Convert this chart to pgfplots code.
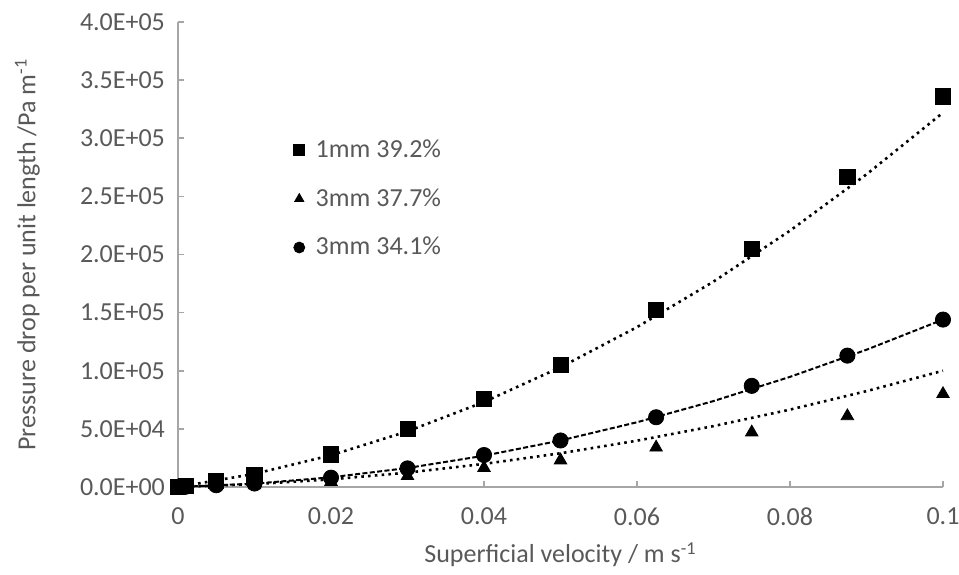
\documentclass[border=0pt]{standalone}
\usepackage{fontspec}
\setmainfont{Carlito}
\usepackage{pgfplots}
\pgfplotsset{compat=1.18}
\definecolor{txt}{HTML}{595959}
\definecolor{axl}{HTML}{A6A6A6}
\begin{document}
\begin{tikzpicture}
\begin{axis}[
  name=ax,
  scale only axis,
  width=382.5pt, height=232.5pt,
  xmin=0, xmax=0.1, ymin=0, ymax=400000,
  axis x line*=bottom, axis y line*=left,
  axis line style={axl, line width=0.8pt, -},
  tick align=inside, major tick length=3pt,
  tick style={axl, line width=0.8pt},
  xtick={0,0.02,0.04,0.06,0.08,0.1},
  xticklabels={0,0.02,0.04,0.06,0.08,0.1},
  ytick={0,50000,100000,150000,200000,250000,300000,350000,400000},
  yticklabels={0.0E+00,5.0E+04,1.0E+05,1.5E+05,2.0E+05,2.5E+05,3.0E+05,3.5E+05,4.0E+05},
  scaled ticks=false,
  every tick label/.append style={font=\fontsize{13}{15}\selectfont, text=txt},
  xticklabel style={yshift=-7pt},
  yticklabel style={xshift=-3pt},
  xlabel={Superficial velocity / m s\textsuperscript{-1}},
  ylabel={Pressure drop per unit length /Pa m\textsuperscript{-1}},
  every axis x label/.style={at={(axis description cs:0.5,-0.146)}, anchor=center,
    font=\fontsize{13}{15}\selectfont, text=txt},
  every axis y label/.style={at={(axis description cs:-0.197,0.5)}, anchor=center, rotate=90,
    font=\fontsize{13}{15}\selectfont, text=txt},
  clip=false,
  legend style={draw=none, fill=none, at={(0.143,0.765)}, anchor=north west,
    font=\fontsize{13}{15}\selectfont, text=txt, row sep=10pt,
    nodes={inner xsep=5.5pt}},
  legend image post style={scale=0.72},
  legend cell align=left,
]
% trendlines
\addplot[forget plot, black, line width=1.3pt, dash pattern=on 1.3pt off 2.1pt] coordinates {
(0,0) (0.01,11320) (0.02,27280) (0.03,47880) (0.04,73120) (0.05,103000)
(0.06,137520) (0.07,176680) (0.08,220480) (0.09,268920) (0.1,322000)};
\addplot[forget plot, black, line width=1.3pt, dash pattern=on 1.3pt off 2.1pt] coordinates {
(0,0) (0.01,2440) (0.02,6560) (0.03,12360) (0.04,19840) (0.05,29000)
(0.06,39840) (0.07,52360) (0.08,66560) (0.09,82440) (0.1,100000)};
\addplot[forget plot, black, line width=1pt, dash pattern=on 2.5pt off 1.2pt] coordinates {
(0,0) (0.01,2880) (0.02,8320) (0.03,16320) (0.04,26880) (0.05,40000)
(0.06,55680) (0.07,73920) (0.08,94720) (0.09,118080) (0.1,144000)};
% data
\addplot[only marks, mark=square*, mark size=3.8pt, black] coordinates {
(0,0) (0.001,1000) (0.005,5000) (0.01,10000) (0.02,28000) (0.03,50000) (0.04,76000)
(0.05,105000) (0.0625,152000) (0.075,205000) (0.0875,267000) (0.1,336000)};
\addlegendentry{1mm 39.2\%}
\addplot[only marks, mark=triangle*, mark size=3.6pt, black] coordinates {
(0,0) (0.001,100) (0.005,700) (0.01,1500) (0.02,4500) (0.03,9500) (0.04,16500)
(0.05,23000) (0.0625,34000) (0.075,47000) (0.0875,61000) (0.1,80000)};
\addlegendentry{3mm 37.7\%}
\addplot[only marks, mark=*, mark size=3.8pt, black] coordinates {
(0,0) (0.001,200) (0.005,1500) (0.01,3000) (0.02,8000) (0.03,16000) (0.04,27500)
(0.05,40000) (0.0625,60000) (0.075,87000) (0.0875,113000) (0.1,144000)};
\addlegendentry{3mm 34.1\%}
\end{axis}
\pgfresetboundingbox
\path ([shift={(-89pt,-44pt)}]ax.south west) rectangle ([shift={(8pt,11pt)}]ax.north east);
\end{tikzpicture}
\end{document}
